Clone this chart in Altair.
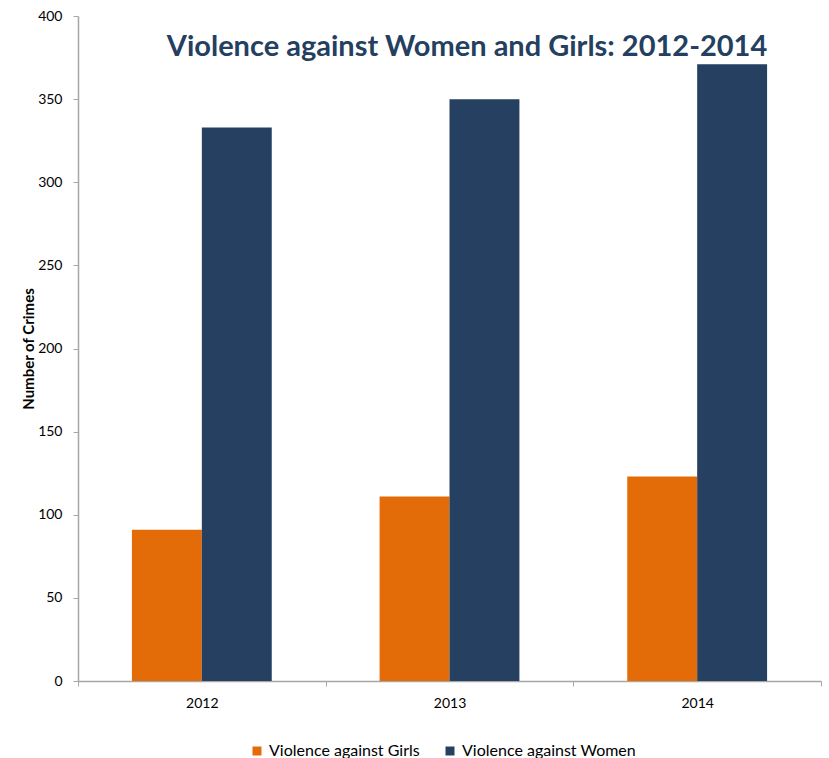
import altair as alt
import pandas as pd

years = ["2012", "2013", "2014"]
girls = [91, 111, 123]
women = [333, 350, 371]
series = ["Violence against Girls", "Violence against Women"]
colors = ["#E36C09", "#254061"]

rows = []
for i, y in enumerate(years):
    rows.append({"Year": y, "Series": series[0], "Crimes": girls[i]})
    rows.append({"Year": y, "Series": series[1], "Crimes": women[i]})
df = pd.DataFrame(rows)

FONT = "Lato"

bars = alt.Chart(df).mark_bar().encode(
    x=alt.X("Year:N", sort=years,
            scale=alt.Scale(paddingInner=0, paddingOuter=0),
            axis=alt.Axis(title=None, labelAngle=0, tickBand="extent",
                          labelFontSize=14, labelFont=FONT, labelColor="#000000",
                          labelPadding=10, tickSize=5, domainColor="#A6A6A6",
                          tickColor="#A6A6A6", domainWidth=1.5, grid=False)),
    xOffset=alt.XOffset("Series:N", sort=series,
                        scale=alt.Scale(paddingInner=0, paddingOuter=0.771)),
    y=alt.Y("Crimes:Q",
            scale=alt.Scale(domain=[0, 400], nice=False),
            axis=alt.Axis(title="Number of Crimes", values=list(range(0, 401, 50)),
                          grid=False, labelFontSize=14, labelFont=FONT,
                          labelColor="#000000", labelPadding=11, tickSize=5,
                          domainColor="#A6A6A6", tickColor="#A6A6A6", domainWidth=1.5,
                          titleFont=FONT, titleFontSize=15, titleFontWeight="bold",
                          titleColor="#000000", titleX=-50, titleY=332.5,
                          titleAngle=-90, titleAlign="center", titleBaseline="middle")),
    color=alt.Color("Series:N", sort=series,
                    scale=alt.Scale(domain=series, range=colors),
                    legend=alt.Legend(title=None, orient="none", legendX=171, legendY=727,
                                      direction="horizontal", symbolType="square",
                                      symbolSize=81, symbolStrokeWidth=0,
                                      labelFont=FONT, labelFontSize=16, labelLimit=400,
                                      labelColor="#000000", labelOffset=4,
                                      columnPadding=22)),
)

title_df = pd.DataFrame({"t": ["Violence against Women and Girls: 2012-2014"]})
title = alt.Chart(title_df).mark_text(
    font=FONT, fontSize=29, fontWeight="bold", color="#243F60",
    align="center", baseline="middle"
).encode(text="t:N", x=alt.value(389), y=alt.value(31))

chart = alt.layer(bars, title).properties(
    width=743, height=665,
    autosize=alt.AutoSizeParams(type="none"),
    padding={"left": 78, "top": 16, "right": 8, "bottom": 77},
).configure_view(stroke=None)

chart.save("out.html", embed_options={"renderer": "svg", "actions": False})
